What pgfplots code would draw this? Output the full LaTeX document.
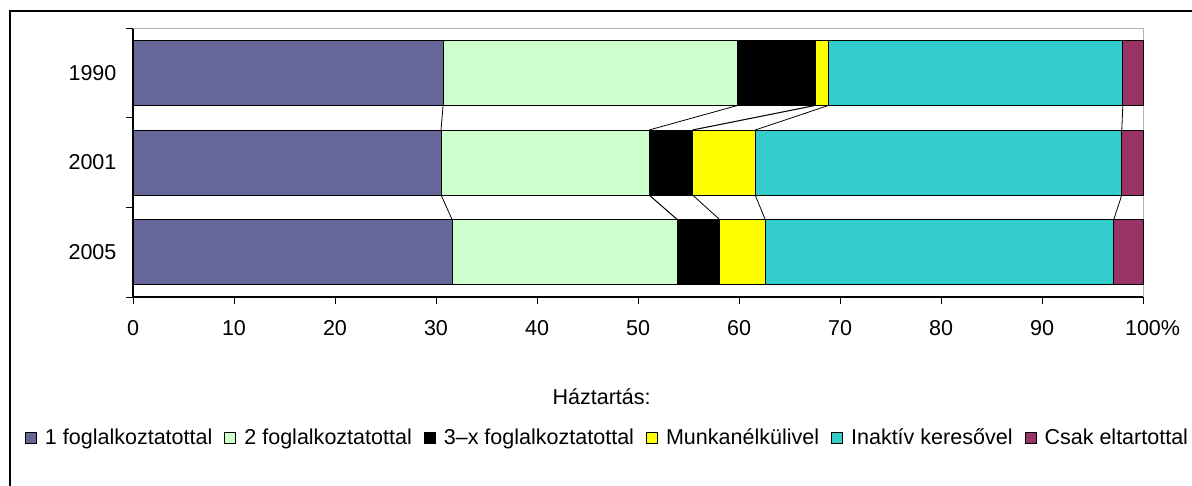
\documentclass[border=0pt]{standalone}
\usepackage{fontspec}
\setmainfont{Liberation Sans}
\usepackage{pgfplots}
\pgfplotsset{compat=1.18}
\definecolor{cpurple}{HTML}{666699}
\definecolor{cgreen}{HTML}{CCFFCC}
\definecolor{cyellow}{HTML}{FFFF00}
\definecolor{ccyan}{HTML}{33CCCC}
\definecolor{cmagenta}{HTML}{993366}
\newcommand{\lbl}{\fontsize{10.8}{13}\selectfont}
\begin{document}
\lbl
\begin{tikzpicture}
\path[use as bounding box] (0,0) rectangle (596bp,-243bp);
\draw[line width=0.6bp] (5bp,-243bp) -- (5bp,-5.5bp) -- (596bp,-5.5bp);
\begin{axis}[
  at={(66.5bp,-148.5bp)}, anchor=south west,
  scale only axis, width=505bp, height=134.5bp,
  xbar stacked, bar width=0.725,
  xmin=0, xmax=100, ymin=-0.5, ymax=2.5,
  xtick={0,10,...,100},
  xticklabels={0,10,20,30,40,50,60,70,80,90,100\rlap{\%}},
  ytick={0,1,2}, yticklabels={2005,2001,1990},
  minor ytick={-0.5,0.5,1.5,2.5},
  tick align=outside,
  major tick length=3.5bp, minor tick length=3.5bp,
  every major y tick/.append style={draw=none},
  every x tick/.append style={black, line width=0.5bp},
  every minor y tick/.append style={black, line width=0.5bp},
  axis x line*=bottom, axis y line*=left,
  axis line style={-, black, line width=0.6bp},
  /pgf/number format/assume math mode=true,
  tick label style={font=\lbl},
  xticklabel style={yshift=-4.5bp},
  yticklabel style={xshift=-1bp},
  legend style={at={(0.4708,-0.524)}, anchor=center, draw=none,
    legend columns=-1, font=\lbl,
    /tikz/every odd column/.append style={column sep=2bp},
    /tikz/every even column/.append style={column sep=4bp}},
  legend image code/.code={\draw[#1] (0bp,-2.75bp) rectangle (5.5bp,2.75bp);},
  clip=false,
]
\addplot[fill=cpurple, draw=black, line width=0.5bp] coordinates {(31.6,0) (30.5,1) (30.7,2)};
\addplot[fill=cgreen, draw=black, line width=0.5bp] coordinates {(22.3,0) (20.6,1) (29.2,2)};
\addplot[fill=black, draw=black, line width=0.5bp] coordinates {(4.2,0) (4.3,1) (7.7,2)};
\addplot[fill=cyellow, draw=black, line width=0.5bp] coordinates {(4.5,0) (6.2,1) (1.3,2)};
\addplot[fill=ccyan, draw=black, line width=0.5bp] coordinates {(34.5,0) (36.3,1) (29.1,2)};
\addplot[fill=cmagenta, draw=black, line width=0.5bp] coordinates {(2.9,0) (2.1,1) (2.0,2)};
\legend{1 foglalkoztatottal, 2 foglalkoztatottal, 3–x foglalkoztatottal, Munkanélkülivel, Inaktív keresővel, Csak eltartottal}
\draw[gray!60, line width=0.5bp] (rel axis cs:0,1) -- (rel axis cs:1,1) -- (rel axis cs:1,0);
\node at (rel axis cs:0.464,-0.372) {Háztartás:};
\end{axis}
\begin{axis}[
  at={(66.5bp,-148.5bp)}, anchor=south west,
  scale only axis, width=505bp, height=134.5bp,
  xmin=0, xmax=100, ymin=-0.5, ymax=2.5,
  hide axis, clip=false,
  cycle list={{black, solid, line width=0.5bp, mark=none}},
]
\addplot coordinates {(30.7,1.6375) (30.5,1.3625)};
\addplot coordinates {(59.9,1.6375) (51.1,1.3625)};
\addplot coordinates {(67.6,1.6375) (55.4,1.3625)};
\addplot coordinates {(68.9,1.6375) (61.6,1.3625)};
\addplot coordinates {(98.0,1.6375) (97.9,1.3625)};
\addplot coordinates {(30.5,0.6375) (31.6,0.3625)};
\addplot coordinates {(51.1,0.6375) (53.9,0.3625)};
\addplot coordinates {(55.4,0.6375) (58.1,0.3625)};
\addplot coordinates {(61.6,0.6375) (62.6,0.3625)};
\addplot coordinates {(97.9,0.6375) (97.1,0.3625)};
\end{axis}
\end{tikzpicture}
\end{document}
